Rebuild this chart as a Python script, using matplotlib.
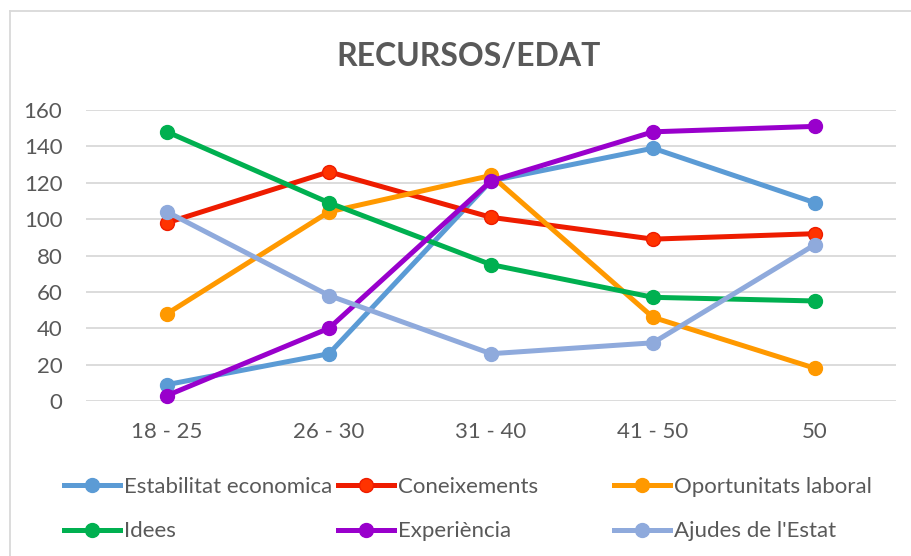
import matplotlib.pyplot as plt
from matplotlib.lines import Line2D

# data
age_groups = ['18 - 25', '26 - 30', '31 - 40', '41 - 50', '50']
estabilitat = [9, 26, 121, 139, 109]
coneixements = [98, 126, 101, 89, 92]
oportunitats = [48, 104, 124, 46, 18]
idees = [148, 109, 75, 57, 55]
experiencia = [3, 40, 121, 148, 151]
ajudes = [104, 58, 26, 32, 86]

series_names = ['Estabilitat economica', 'Coneixements', 'Oportunitats laboral',
                'Idees', 'Experiència', "Ajudes de l'Estat"]
series_values = [estabilitat, coneixements, oportunitats, idees, experiencia, ajudes]
colors = ['#5B9BD5', '#EE1C00', '#FF9900', '#00B050', '#9900CC', '#8FAADC']

plt.rcParams['font.family'] = ['Lato', 'DejaVu Sans']
text_color = '#595959'

fig = plt.figure(figsize=(9.12, 5.56), dpi=100)
ax = fig.add_axes([86 / 912, (556 - 401) / 556, 810 / 912, 291 / 556])

x = list(range(len(age_groups)))
handles = []
for name, vals, col in zip(series_names, series_values, colors):
    mfc = '#FF3300' if name == 'Coneixements' else col
    line, = ax.plot(x, vals, color=col, linewidth=3.6, marker='o', markersize=10,
                    markerfacecolor=mfc, markeredgecolor=col, markeredgewidth=1,
                    clip_on=False, zorder=3, label=name)
    handles.append(line)

ax.set_xlim(-0.5, len(age_groups) - 0.5)
ax.set_ylim(0, 160)
ax.set_yticks(range(0, 161, 20))
ax.set_xticks(x)
ax.set_xticklabels(age_groups)
ax.grid(axis='y', color='#D9D9D9', linewidth=1.3)
ax.set_axisbelow(True)
for s in ax.spines.values():
    s.set_visible(False)
ax.tick_params(axis='both', length=0, labelsize=16, labelcolor=text_color)
ax.tick_params(axis='x', pad=15)
ax.tick_params(axis='y', pad=17)

fig.text(469 / 912, 1 - 56 / 556, 'RECURSOS/EDAT', ha='center', va='center',
         fontsize=23, fontweight='bold', color=text_color)

# legend in three fixed-width columns like Excel
col_x = [64, 338, 614]
for i, cx in enumerate(col_x):
    hs = [handles[i], handles[i + 3]]
    leg = fig.legend(handles=hs, loc='upper left',
                     bbox_to_anchor=(cx / 912, 1 - 477 / 556),
                     frameon=False, fontsize=16, handlelength=2.5,
                     handletextpad=0.18, labelspacing=1.1, borderpad=0,
                     borderaxespad=0, markerscale=1.0)
    for t in leg.get_texts():
        t.set_color(text_color)

# chart border
fig.add_artist(Line2D([10 / 912, 10 / 912], [0, 1 - 11 / 556], color='#D9D9D9', linewidth=1.3))
fig.add_artist(Line2D([10 / 912, 1], [1 - 11 / 556, 1 - 11 / 556], color='#D9D9D9', linewidth=1.3))

fig.savefig('out.png', dpi=100, facecolor='white')
